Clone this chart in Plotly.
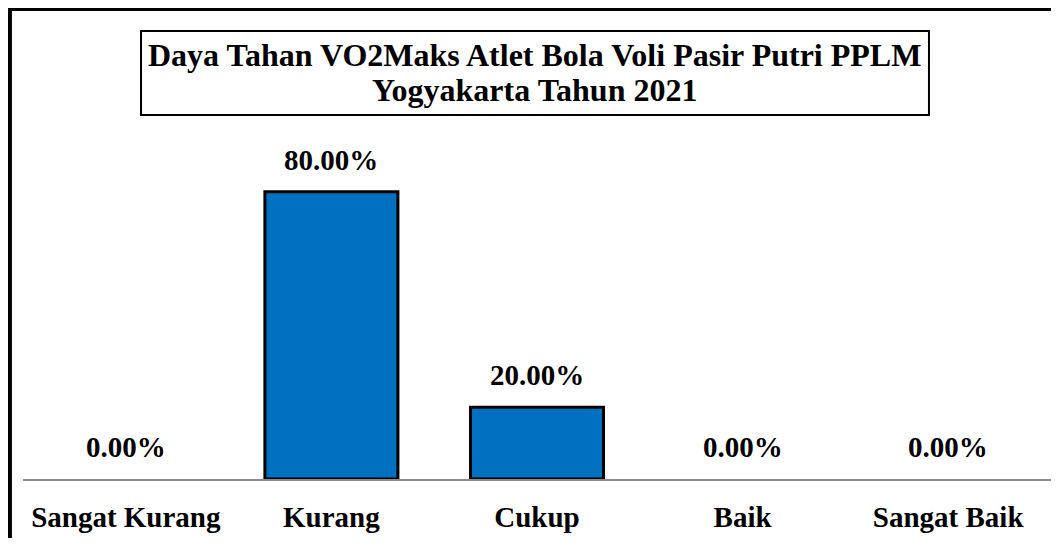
import plotly.graph_objects as go

# data
categories = ["Sangat Kurang", "Kurang", "Cukup", "Baik", "Sangat Baik"]
percentages = [0.0, 0.80, 0.20, 0.0, 0.0]

title_lines = ["Daya Tahan VO2Maks Atlet Bola Voli Pasir Putri PPLM",
               "Yogyakarta Tahun 2021"]

FONT = "Liberation Serif, Times New Roman, serif"

fig = go.Figure()

fig.add_trace(go.Bar(
    x=categories,
    y=percentages,
    marker=dict(
        color="#0070C0",
        # no outline on empty bars, otherwise a black stub shows on the axis
        line=dict(color="black", width=[3 if v > 0 else 0 for v in percentages]),
    ),
    hoverinfo="skip",
))

# value labels sit a fixed distance above each bar
for cat, val in zip(categories, percentages):
    fig.add_annotation(
        x=cat, y=val, xref="x", yref="y",
        text=f"<b>{val:.2%}</b>",
        showarrow=False, yanchor="middle", yshift=32,
        font=dict(family=FONT, size=29, color="black"),
    )

# title inside a framed box
fig.add_shape(type="rect", xref="paper", yref="paper",
              x0=0.1148, x1=0.8813, y0=1.0139, y1=1.248,
              line=dict(color="black", width=2), fillcolor="white", layer="below")
for txt, yy in zip(title_lines, [1.180, 1.083]):
    fig.add_annotation(
        x=0.498, y=yy, xref="paper", yref="paper",
        text=f"<b>{txt}</b>", showarrow=False, yanchor="middle",
        font=dict(family=FONT, size=32, color="black"),
    )

# outer chart frame (right and bottom edges fall outside the picture)
fig.add_shape(type="rect", xref="paper", yref="paper",
              x0=-0.0127, x1=1.1, y0=-0.3, y1=1.309,
              line=dict(color="black", width=4))

# page body has an 8px margin, so the figure is a little smaller than the window
fig.update_layout(
    width=1043, height=530,
    margin=dict(l=15, r=0, t=112, b=59),
    paper_bgcolor="white", plot_bgcolor="white",
    bargap=0.353,
    showlegend=False,
    font=dict(family=FONT, color="black"),
    xaxis=dict(
        showline=True, linecolor="#8c8c8c", linewidth=2,
        showgrid=False, ticks="",
        tickfont=dict(family=FONT, size=29, color="black", weight="bold"),
        ticklabelstandoff=11,
    ),
    yaxis=dict(range=[0, 1], visible=False, showgrid=False, zeroline=False),
)

fig.write_html("out.html")
